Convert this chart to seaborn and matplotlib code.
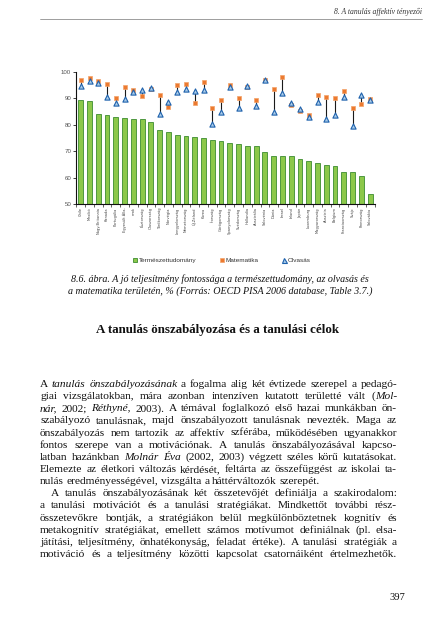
import numpy as np
import pandas as pd
import matplotlib
matplotlib.use("Agg")
import matplotlib.pyplot as plt
import seaborn as sns
from matplotlib import font_manager
from matplotlib.font_manager import FontProperties
from matplotlib.lines import Line2D

# ---------------- data ----------------
countries = ["Chile", "Mexikó", "Nagy-Britannia", "Kanada", "Portugália",
             "Egyesült Álla-", "mok", "Észtország", "Olaszország", "Törökország",
             "Norvégia", "Lengyelország", "Németország", "Új-Zéland", "Korea",
             "Írország", "Görögország", "Spanyolország", "Svédország", "Hollandia",
             "Ausztrália", "Szlovénia", "Dánia", "Izrael", "Izland", "Japán",
             "Luxemburg", "Magyarország", "Ausztria", "Belgium", "Franciaország",
             "Svájc", "Finnország", "Szlovákia"]
science = [89.3, 89.1, 83.9, 83.6, 83.1, 82.4, 82.1, 82.1, 81.0, 77.9,
           77.2, 76.0, 75.7, 75.5, 75.0, 74.2, 73.8, 73.3, 72.7, 72.1,
           71.8, 69.7, 68.4, 68.3, 68.3, 67.0, 66.2, 65.5, 64.7, 64.3,
           62.0, 62.0, 60.6, 54.0]
mathematics = [96.7, 97.5, 96.4, 95.5, 90.1, 94.1, 93.1, 90.8, 93.5, 91.4,
               86.7, 94.8, 95.3, 88.2, 96.0, 86.4, 89.2, 95.0, 89.9, 94.1,
               89.4, 96.9, 93.3, 98.1, 87.4, 85.0, 83.8, 91.4, 90.3, 89.9,
               92.7, 86.2, 88.0, 89.7]
reading = [94.6, 96.6, 95.6, 90.3, 88.3, 89.8, 92.2, 93.0, 93.8, 84.0,
           88.7, 92.3, 93.6, 92.6, 93.0, 80.3, 84.7, 94.3, 86.5, 94.7,
           87.2, 96.7, 84.8, 91.8, 88.3, 85.9, 83.0, 88.7, 82.1, 83.5,
           90.4, 79.7, 91.4, 89.2]
yticks = [50, 60, 70, 80, 90, 100]
legend_labels = ["Természettudomány", "Matematika", "Olvasás"]

header = "8. A tanulás affektív tényezői"
caption = ["8.6. ábra. A jó teljesítmény fontossága a természettudomány, az olvasás és",
           "a matematika területén, % (Forrás: OECD PISA 2006 database, Table 3.7.)"]
heading = "A tanulás önszabályozása és a tanulási célok"
body = [
    ("A *tanulás önszabályozásának* a fogalma alig két évtizede szerepel a pedagó-", 0, True),
    ("giai vizsgálatokban, mára azonban intenzíven kutatott területté vált (*Mol-*", 0, True),
    ("*nár,* 2002; *Réthyné,* 2003). A témával foglalkozó első hazai munkákban ön-", 0, True),
    ("szabályozó tanulásnak, majd önszabályozott tanulásnak nevezték. Maga az", 0, True),
    ("önszabályozás nem tartozik az affektív szférába, működésében ugyanakkor", 0, True),
    ("fontos szerepe van a motivációnak. A tanulás önszabályozásával kapcso-", 0, True),
    ("latban hazánkban *Molnár Éva* (2002, 2003) végzett széles körű kutatásokat.", 0, True),
    ("Elemezte az életkori változás kérdését, feltárta az összefüggést az iskolai ta-", 0, True),
    ("nulás eredményességével, vizsgálta a háttérváltozók szerepét.", 0, False),
    ("A tanulás önszabályozásának két összetevőjét definiálja a szakirodalom:", 1, True),
    ("a tanulási motivációt és a tanulási stratégiákat. Mindkettőt további rész-", 0, True),
    ("összetevőkre bontják, a stratégiákon belül megkülönböztetnek kognitív és", 0, True),
    ("metakognitív stratégiákat, emellett számos motívumot definiálnak (pl. elsa-", 0, True),
    ("játítási, teljesítmény, önhatékonyság, feladat értéke). A tanulási stratégiák a", 0, True),
    ("motiváció és a teljesítmény közötti kapcsolat csatornáiként értelmezhetők.", 0, True),
]
page_number = "397"

# ---------------- setup ----------------
sns.set_theme(style="white")
plt.rcParams["font.family"] = ["Liberation Sans", "DejaVu Sans"]

available = {f.name for f in font_manager.fontManager.ttflist}
if "Liberation Sans Narrow" in available:
    tick_fp = FontProperties(family="Liberation Sans Narrow", size=3.4)
else:
    tick_fp = FontProperties(family="DejaVu Sans", stretch="condensed", size=2.9)

W, H = 436, 640
fig = plt.figure(figsize=(W / 100, H / 100), dpi=100)
fig.patch.set_facecolor("white")


def fx(px):
    return px / W


def fy(py):
    return 1 - py / H


# ---------------- chart ----------------
ax = fig.add_axes([fx(76), fy(204.3), (375.4 - 76) / W, (204.3 - 71.7) / H])
n = len(countries)
df = pd.DataFrame({"country": countries, "science": science,
                   "math": mathematics, "reading": reading, "pos": np.arange(n)})

sns.barplot(data=df, x="country", y="science", order=countries, color="#8cc84a",
            edgecolor="#3c8c30", linewidth=0.6, width=0.55, saturation=1, ax=ax)

lo = np.minimum(df["math"], df["reading"])
hi = np.maximum(df["math"], df["reading"])
ax.vlines(df["pos"], lo, hi, color="#1a1a1a", lw=0.8, zorder=3)

sns.scatterplot(data=df, x="pos", y="math", marker="s", s=11, color="#ec7a30",
                edgecolor="#f3a36a", linewidth=0.5, ax=ax, zorder=4, legend=False)
sns.scatterplot(data=df, x="pos", y="reading", marker="^", s=14, color="#a9cbe8",
                edgecolor="#1f62ad", linewidth=0.8, ax=ax, zorder=5, legend=False)

ax.set_xlim(-0.54, n - 1 + 0.6)
ax.set_ylim(50, 100)
ax.set_yticks(yticks)
ax.set_yticklabels([str(t) for t in yticks], fontsize=4.4, color="#555555")
ax.set_xticks(np.arange(n))
ax.set_xticklabels(countries, rotation=90, fontproperties=tick_fp, color="#444444")
ax.set_xticks(np.arange(n + 1) - 0.5, minor=True)
ax.tick_params(axis="x", which="major", length=0, pad=2.2)
ax.tick_params(axis="x", which="minor", length=1.8, width=0.5, color="#222222", bottom=True)
ax.tick_params(axis="y", which="major", length=2, width=0.6, color="#222222", pad=1.5, left=True)
ax.set_xlabel("")
ax.set_ylabel("")
for s in ["top", "right"]:
    ax.spines[s].set_visible(False)
for s in ["left", "bottom"]:
    ax.spines[s].set_color("#111111")
    ax.spines[s].set_linewidth(0.8)
ax.grid(False)
ax.set_facecolor("white")

handles = [
    Line2D([], [], marker="s", ls="", color="#8cc84a", markeredgecolor="#3c8c30",
           markersize=3.4, markeredgewidth=0.6),
    Line2D([], [], marker="s", ls="", color="#ec7a30", markeredgecolor="#f3a36a",
           markersize=3.4, markeredgewidth=0.5),
    Line2D([], [], marker="^", ls="", color="#a9cbe8", markeredgecolor="#1f62ad",
           markersize=3.6, markeredgewidth=0.8),
]
fig.legend(handles, legend_labels, loc="center", bbox_to_anchor=(fx(222), fy(260)),
           ncol=3, frameon=False, fontsize=4.6, handlelength=0.6, handletextpad=0.3,
           columnspacing=3.6, labelcolor="#333333")

# ---------------- page text ----------------
serif = "Liberation Serif"
fig.text(fx(422), fy(12), header, ha="right", va="center", fontsize=5.5,
         style="italic", family=serif, color="#333333")
fig.add_artist(Line2D([fx(40), fx(422)], [fy(19), fy(19)], lw=0.5, color="#777777"))

cap_y = [279, 291]
for t, yy in zip(caption, cap_y):
    fig.text(fx(220), fy(yy), t, ha="center", va="center", fontsize=7.2,
             style="italic", family=serif, color="#111111")

fig.text(fx(218), fy(330), heading, ha="center", va="center", fontsize=9.4,
         weight="bold", family=serif, color="#111111")

renderer = fig.canvas.get_renderer()
fs_body = 8.2
fp_reg = FontProperties(family=serif, size=fs_body)
fp_it = FontProperties(family=serif, size=fs_body, style="italic")


def parse(line):
    words = []
    ital = False
    for tok in line.split(" "):
        runs = []
        cur = ""
        for ch in tok:
            if ch == "*":
                if cur:
                    runs.append((cur, ital))
                    cur = ""
                ital = not ital
            else:
                cur += ch
        if cur:
            runs.append((cur, ital))
        words.append(runs)
    return words


def width(s, it):
    w, h, d = renderer.get_text_width_height_descent(s, fp_it if it else fp_reg, ismath=False)
    return w


x_left, x_right = 40.0, 397.0
indent = 11.0
space_w = width("a b", False) - width("ab", False)
y0, dy = 387.0, 12.15
for i, (line, ind, just) in enumerate(body):
    yb = y0 + i * dy
    words = parse(line)
    wws = [sum(width(t, it) for t, it in w) for w in words]
    xs = x_left + (indent if ind else 0)
    total = sum(wws)
    if just and len(words) > 1:
        gap = (x_right - xs - total) / (len(words) - 1)
        gap = max(gap, space_w * 0.6)
    else:
        gap = space_w
    x = xs
    for w, ww in zip(words, wws):
        xx = x
        for t, it in w:
            fig.text(fx(xx), fy(yb), t, ha="left", va="baseline",
                     fontproperties=fp_it if it else fp_reg, color="#111111")
            xx += width(t, it)
        x += ww + gap

fig.text(fx(405), fy(598), page_number, ha="right", va="center", fontsize=7.6,
         family=serif, color="#111111")

fig.savefig("out.png", dpi=100, facecolor="white")
